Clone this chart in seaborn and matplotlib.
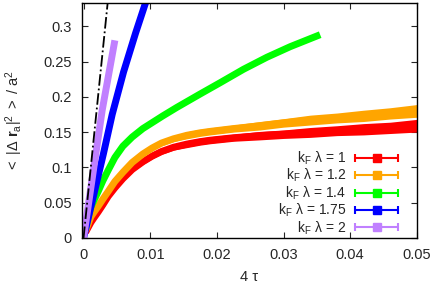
import numpy as np
import pandas as pd
import matplotlib
matplotlib.use("Agg")
import matplotlib.pyplot as plt
import seaborn as sns
from matplotlib.lines import Line2D
from matplotlib.legend_handler import HandlerTuple, HandlerLine2D

# ---- data ----
x_red = [0.0003, 0.0007, 0.0011, 0.0016, 0.0022, 0.0029, 0.0037, 0.0047, 0.0059, 0.0073, 0.0089,
         0.0103, 0.0117, 0.0135, 0.0155, 0.0175, 0.019, 0.0225, 0.0265, 0.030, 0.034, 0.038,
         0.042, 0.046, 0.05]
y_red = [0.008, 0.015, 0.022, 0.029, 0.037, 0.047, 0.059, 0.071, 0.084, 0.097, 0.108,
         0.116, 0.1225, 0.1285, 0.1330, 0.1365, 0.1385, 0.1420, 0.1450, 0.1470, 0.1495, 0.1520,
         0.1540, 0.1560, 0.1590]
e_red = [0.001, 0.001, 0.002, 0.002, 0.002, 0.002, 0.003, 0.003, 0.003, 0.003, 0.004,
         0.004, 0.004, 0.004, 0.005, 0.005, 0.005, 0.005, 0.006, 0.006, 0.007, 0.007,
         0.008, 0.008, 0.009]

x_orange = [0.0003, 0.0007, 0.0011, 0.0016, 0.0022, 0.0029, 0.0037, 0.0047, 0.0059, 0.0073, 0.0089,
            0.0103, 0.0117, 0.0135, 0.0155, 0.0175, 0.019, 0.0225, 0.0265, 0.030, 0.034, 0.038,
            0.042, 0.046, 0.05]
y_orange = [0.010, 0.020, 0.030, 0.037, 0.045, 0.055, 0.066, 0.080, 0.093, 0.107, 0.119,
            0.1275, 0.1345, 0.1405, 0.1455, 0.1490, 0.1510, 0.1550, 0.1590, 0.1630, 0.1670, 0.1700,
            0.1730, 0.1765, 0.1800]
e_orange = [0.001, 0.001, 0.002, 0.002, 0.002, 0.002, 0.003, 0.003, 0.003, 0.003, 0.004,
            0.004, 0.004, 0.004, 0.005, 0.005, 0.005, 0.005, 0.006, 0.006, 0.007, 0.007,
            0.008, 0.008, 0.009]

x_green = [0.0003, 0.0007, 0.0011, 0.0016, 0.0022, 0.0029, 0.0037, 0.0047, 0.0059, 0.0073, 0.0089,
           0.0104, 0.0119, 0.014, 0.0175, 0.0205, 0.024, 0.0275, 0.031, 0.0355]
y_green = [0.012, 0.030, 0.044, 0.054, 0.066, 0.081, 0.096, 0.114, 0.130, 0.143, 0.155,
           0.164, 0.173, 0.185, 0.204, 0.220, 0.239, 0.256, 0.271, 0.288]

x_blue = [0.0, 0.001, 0.002, 0.003, 0.0043, 0.006, 0.0078, 0.0093]
y_blue = [0.0, 0.040, 0.080, 0.120, 0.175, 0.235, 0.290, 0.333]

x_purple = [0.0, 0.0017, 0.0028, 0.0047]
y_purple = [0.0, 0.110, 0.181, 0.280]

ref_slope = 92.0  # dash-dot reference line y = slope * x
ref_x = [0.0, 0.0037]

labels = [r"$\mathrm{k_F}$ λ = 1", r"$\mathrm{k_F}$ λ = 1.2", r"$\mathrm{k_F}$ λ = 1.4",
          r"$\mathrm{k_F}$ λ = 1.75", r"$\mathrm{k_F}$ λ = 2"]
colors = ["#ff0000", "#ffa500", "#00ff00", "#0000ff", "#c080ff"]

# ---- style ----
sns.set_style("ticks")
plt.rcParams["font.family"] = ["Liberation Sans", "DejaVu Sans"]
plt.rcParams["mathtext.fontset"] = "custom"
plt.rcParams["mathtext.rm"] = "Liberation Sans"
plt.rcParams["mathtext.it"] = "Liberation Sans:italic"
plt.rcParams["mathtext.bf"] = "Liberation Sans:bold"
plt.rcParams["font.size"] = 10.5

fig = plt.figure(figsize=(4.36, 2.92), dpi=100)
ax = fig.add_axes([0.187, 0.185, 0.769, 0.805])

series = [
    (x_red, y_red, e_red),
    (x_orange, y_orange, e_orange),
    (x_green, y_green, None),
    (x_blue, y_blue, None),
    (x_purple, y_purple, None),
]
for (xs, ys, es), c in zip(series, colors):
    df = pd.DataFrame({"x": xs, "y": ys})
    if es is not None:
        ax.fill_between(xs, np.array(ys) - np.array(es), np.array(ys) + np.array(es),
                        color=c, linewidth=0, zorder=2)
    sns.lineplot(data=df, x="x", y="y", color=c, linewidth=5.0, sort=False, ax=ax,
                 solid_capstyle="butt", solid_joinstyle="round", zorder=2)

rx = np.array(ref_x)
ax.plot(rx, ref_slope * rx, color="black", linestyle="-.", linewidth=1.3, zorder=3)

ax.set_xlim(-0.0003, 0.05)
ax.set_ylim(0, 0.333)
ax.set_xticks([0, 0.01, 0.02, 0.03, 0.04, 0.05])
ax.set_xticklabels(["0", "0.01", "0.02", "0.03", "0.04", "0.05"])
ax.set_yticks([0, 0.05, 0.1, 0.15, 0.2, 0.25, 0.3])
ax.set_yticklabels(["0", "0.05", "0.1", "0.15", "0.2", "0.25", "0.3"])
ax.tick_params(direction="in", top=True, right=True, length=4, width=0.8,
               labelsize=10.5, pad=7)
for s in ax.spines.values():
    s.set_linewidth(1.0)
    s.set_color("black")

ax.set_xlabel("4 τ", fontsize=10.5, labelpad=6)
ax.set_ylabel(r"$<\ |\Delta\ \mathbf{r}_{\rm a}|^{2}\ >\ /\ \mathrm{a}^{2}$", fontsize=10.5, labelpad=13)

# ---- legend (gnuplot style: text then errorbar symbol) ----
handles = []
hmap = {tuple: HandlerTuple(ndivide=1, pad=0)}
for c in colors:
    cap = Line2D([], [], color=c, linewidth=1.5, marker="|", markersize=6, markeredgewidth=1.5)
    sq = Line2D([], [], color=c, marker="s", markersize=6, linestyle="none")
    hmap[cap] = HandlerLine2D(numpoints=2, marker_pad=0)
    hmap[sq] = HandlerLine2D(numpoints=1)
    handles.append((cap, sq))
ax.legend(handles, labels, handler_map=hmap, loc="lower right",
          bbox_to_anchor=(0.949, 0.0), borderaxespad=0, borderpad=0.1,
          frameon=False, markerfirst=False, handlelength=3.1, handletextpad=0.65,
          labelspacing=0.0, fontsize=10)

fig.savefig("out.png", dpi=100)
